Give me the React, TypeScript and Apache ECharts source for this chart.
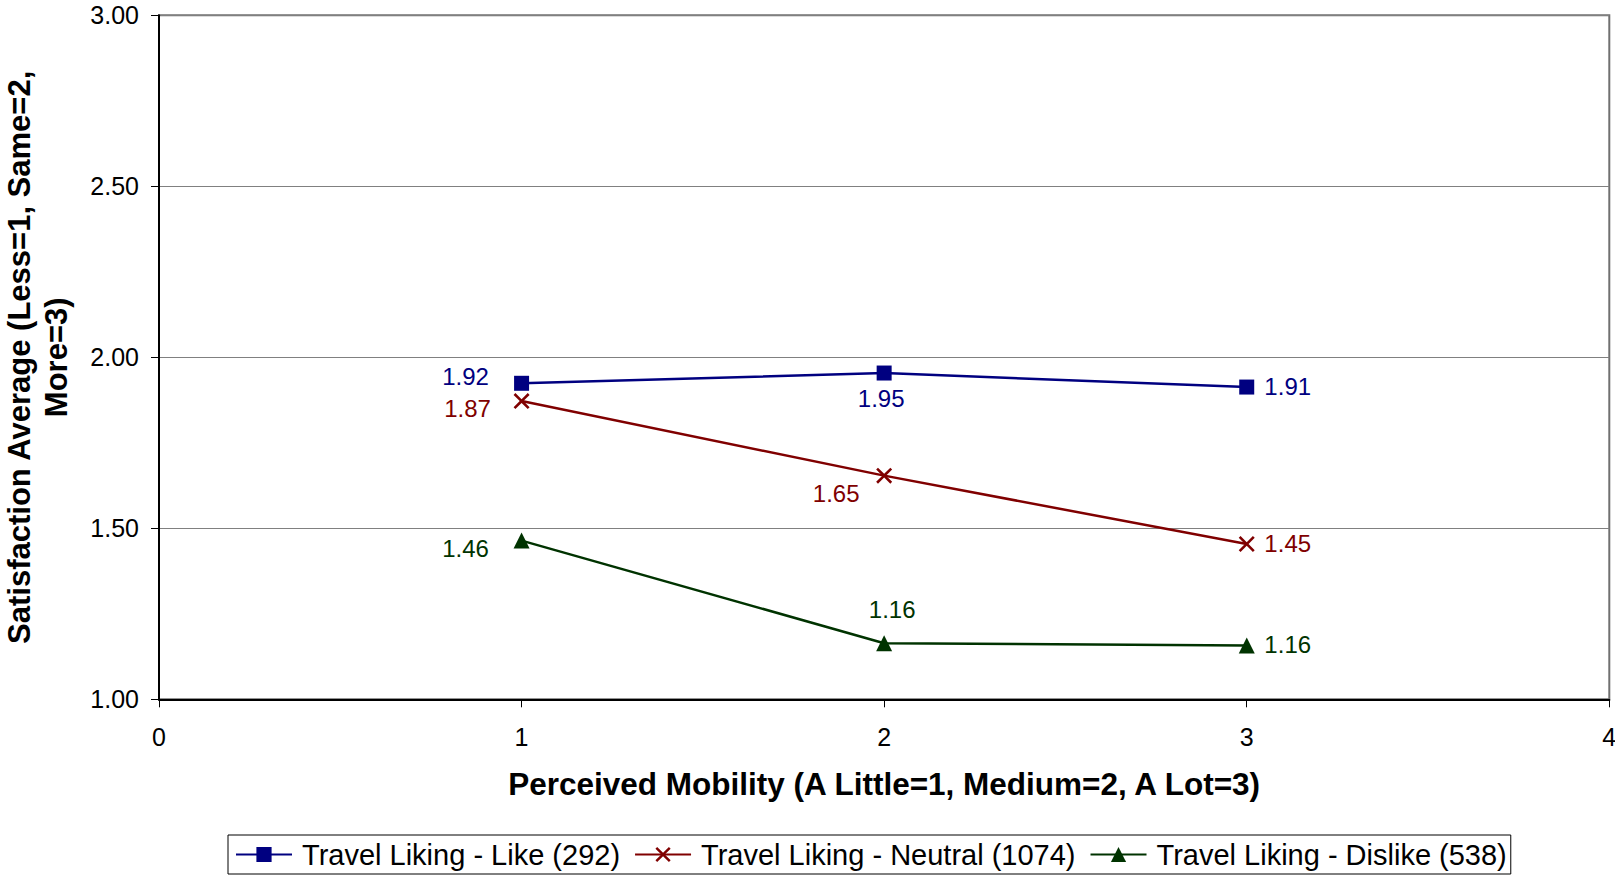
import React, { useEffect, useRef } from "react";
import * as echarts from "echarts";

// ---- data ----
const mobility = [1, 2, 3];
const seriesNames = [
  "Travel Liking - Like (292)",
  "Travel Liking - Neutral (1074)",
  "Travel Liking - Dislike (538)",
];
const likeValues = [1.924, 1.954, 1.913];
const neutralValues = [1.872, 1.654, 1.454];
const dislikeValues = [1.464, 1.164, 1.157];
const yTicks = [1.0, 1.5, 2.0, 2.5, 3.0];
const xTicks = [0, 1, 2, 3, 4];
const xTitle = "Perceived Mobility (A Little=1, Medium=2, A Lot=3)";
const yTitle = "Satisfaction Average (Less=1, Same=2,\nMore=3)";

// ---- style ----
const colors = ["#000080", "#800000", "#003300"];
const crossPath =
  "path://M0,1.6L1.6,0L7,5.4L12.4,0L14,1.6L8.6,7L14,12.4L12.4,14L7,8.6L1.6,14L0,12.4L5.4,7Z";
const symbols = ["rect", crossPath, "triangle"];
const symbolSizes = [15, 16, 16];
const labelOffsets = [
  [[-56, -7], [-3, 25], [41, -1]],
  [[-54, 7], [-48, 18], [41, -1]],
  [[-56, 8], [8, -34], [41, -1]],
];
const FONT = '"Liberation Sans", Arial, Helvetica, sans-serif';

export default function App() {
  const ref = useRef<HTMLDivElement>(null);

  useEffect(() => {
    if (!ref.current) return;
    const chart = echarts.init(ref.current, undefined, { renderer: "svg" });
    const allValues = [likeValues, neutralValues, dislikeValues];

    const series = allValues.map((vals, si) => ({
      name: seriesNames[si],
      type: "line",
      data: vals.map((v, i) => ({
        value: [mobility[i], v],
        label: { offset: labelOffsets[si][i] },
      })),
      symbol: symbols[si],
      symbolSize: symbolSizes[si],
      showAllSymbol: true,
      color: colors[si],
      lineStyle: { color: colors[si], width: 2.5 },
      itemStyle: { color: colors[si], borderWidth: 0 },
      label: {
        show: true,
        position: "inside",
        align: "center",
        verticalAlign: "middle",
        fontFamily: FONT,
        fontSize: 24,
        color: colors[si],
        formatter: (p: any) => Number(p.value[1]).toFixed(2),
      },
      emphasis: { disabled: true },
      z: 3,
    }));

    chart.setOption({
      animation: false,
      backgroundColor: "#ffffff",
      textStyle: { fontFamily: FONT },
      grid: {
        left: 159,
        right: 5.7,
        top: 15.3,
        bottom: 177.7,
        containLabel: false,
        outerBoundsMode: "none",
        show: true,
        borderColor: "#707070",
        borderWidth: 2,
        backgroundColor: "transparent",
      },
      legend: {
        left: 228,
        top: 835,
        orient: "horizontal",
        data: seriesNames,
        borderColor: "#000000",
        borderWidth: 1,
        padding: [5, 4, 5, 7],
        itemWidth: 56,
        itemHeight: 19,
        itemGap: 14,
        textStyle: {
          fontFamily: FONT,
          fontSize: 29,
          color: "#000000",
          padding: [0, 0, 0, 5],
        },
        selectedMode: false,
      },
      xAxis: {
        type: "value",
        min: xTicks[0],
        max: xTicks[xTicks.length - 1],
        interval: 1,
        name: xTitle,
        nameLocation: "middle",
        nameGap: 85,
        nameTextStyle: {
          fontFamily: FONT,
          fontSize: 31.5,
          fontWeight: "bold",
          color: "#000000",
          verticalAlign: "middle",
        },
        axisLine: { show: true, lineStyle: { color: "#000000", width: 2 } },
        axisTick: { show: true, length: 8, lineStyle: { color: "#000000", width: 1 } },
        axisLabel: {
          fontFamily: FONT,
          fontSize: 25,
          color: "#000000",
          margin: 25,
        },
        splitLine: { show: false },
      },
      yAxis: {
        type: "value",
        min: yTicks[0],
        max: yTicks[yTicks.length - 1],
        interval: 0.5,
        name: yTitle,
        nameLocation: "middle",
        nameRotate: 90,
        nameGap: 121.5,
        nameTextStyle: {
          fontFamily: FONT,
          fontSize: 31,
          fontWeight: "bold",
          color: "#000000",
          verticalAlign: "middle",
          align: "center",
          lineHeight: 37,
        },
        axisLine: { show: true, lineStyle: { color: "#000000", width: 2 } },
        axisTick: { show: true, length: 8, lineStyle: { color: "#000000", width: 1 } },
        axisLabel: {
          fontFamily: FONT,
          fontSize: 25,
          color: "#000000",
          margin: 20,
          formatter: (v: number) => v.toFixed(2),
        },
        splitLine: { show: true, lineStyle: { color: "#808080", width: 1 } },
      },
      series,
    });

    return () => chart.dispose();
  }, []);

  return (
    <div
      ref={ref}
      style={{
        position: "fixed",
        left: 0,
        top: 0,
        width: 1615,
        height: 877,
        background: "#ffffff",
      }}
    />
  );
}
